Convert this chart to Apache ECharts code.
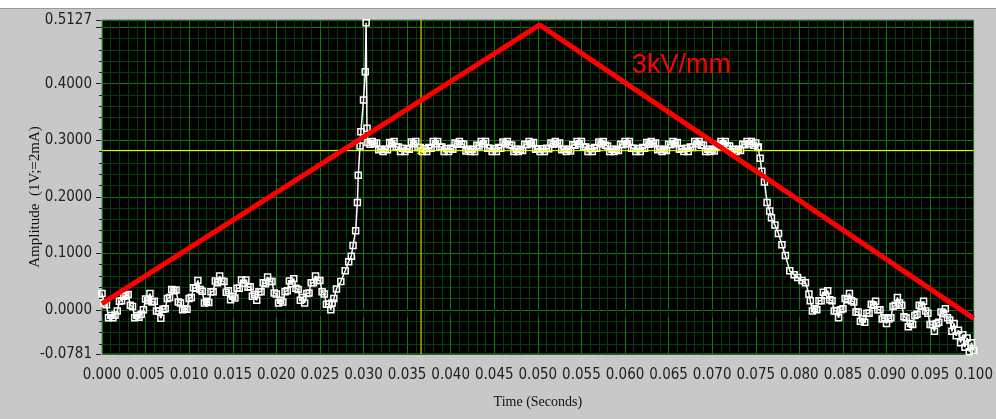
<!DOCTYPE html>
<html>
<head>
<meta charset="utf-8">
<script src="https://cdn.jsdelivr.net/npm/echarts@6/dist/echarts.min.js"></script>
<style>
  html, body { margin: 0; padding: 0; background: #c8c8c8; }
  #chart { width: 996px; height: 419px; }
</style>
</head>
<body>
<div id="chart"></div>
<script>
// Acquisition sample interval of the scope trace (s)
const sampleStep = 0.00025;

// Pre-breakdown ripple, samples from t = 0
const lowBandStart = 0.0;
const lowBandValues = [
  0.029, 0.012, 0.009, -0.014, -0.010, -0.014, -0.009, -0.002, 0.015, 0.016,
  0.024, 0.025, 0.027, 0.008, 0.006, -0.014, -0.010, -0.013, -0.008, 0.000,
  0.019, 0.016, 0.029, 0.014, 0.015, -0.002, -0.002, -0.015, 0.001, 0.002,
  0.020, 0.022, 0.036, 0.034, 0.035, 0.014, 0.012, 0.000, 0.002, 0.001,
  0.020, 0.022, 0.039, 0.038, 0.052, 0.036, 0.033, 0.012, 0.015, 0.013,
  0.032, 0.032, 0.051, 0.048, 0.060, 0.051, 0.050, 0.031, 0.034, 0.018,
  0.024, 0.021, 0.038, 0.038, 0.053, 0.047, 0.053, 0.040, 0.041, 0.024,
  0.027, 0.017, 0.032, 0.032, 0.048, 0.046, 0.058, 0.050, 0.050, 0.030,
  0.028, 0.012, 0.017, 0.014, 0.032, 0.034, 0.051, 0.046, 0.055, 0.038,
  0.036, 0.017, 0.022, 0.012, 0.029, 0.030, 0.048, 0.048, 0.060, 0.052,
  0.052, 0.032, 0.028, 0.010, 0.010, 0.000
];

// Breakdown edge and overshoot [t, v]
const riseEdge = [
  [0.0264, 0.012], [0.0266, 0.020], [0.0269, 0.037], [0.0274, 0.050], [0.0279, 0.069],
  [0.0283, 0.085], [0.0286, 0.095], [0.0288, 0.114], [0.0291, 0.140], [0.0293, 0.190],
  [0.0294, 0.238], [0.0296, 0.290], [0.0297, 0.315], [0.0300, 0.371], [0.0302, 0.421],
  [0.0303, 0.508], [0.0304, 0.321]
];

// Conduction plateau, samples from t = 0.0305
const plateauStart = 0.0305;
const plateauValues = [
  0.296, 0.293, 0.298, 0.294, 0.295, 0.283, 0.284, 0.280, 0.284, 0.283,
  0.296, 0.294, 0.298, 0.288, 0.288, 0.280, 0.286, 0.280, 0.285, 0.284,
  0.297, 0.294, 0.298, 0.287, 0.287, 0.280, 0.285, 0.280, 0.287, 0.286,
  0.298, 0.294, 0.298, 0.288, 0.288, 0.280, 0.285, 0.280, 0.286, 0.284,
  0.295, 0.293, 0.298, 0.294, 0.293, 0.281, 0.284, 0.280, 0.284, 0.280,
  0.291, 0.290, 0.298, 0.294, 0.298, 0.286, 0.286, 0.280, 0.285, 0.280,
  0.287, 0.286, 0.297, 0.294, 0.298, 0.292, 0.291, 0.280, 0.284, 0.280,
  0.284, 0.282, 0.293, 0.292, 0.298, 0.294, 0.296, 0.284, 0.285, 0.280,
  0.285, 0.280, 0.286, 0.285, 0.295, 0.293, 0.298, 0.294, 0.295, 0.283,
  0.284, 0.280, 0.284, 0.281, 0.292, 0.291, 0.298, 0.294, 0.298, 0.288,
  0.288, 0.280, 0.285, 0.280, 0.287, 0.286, 0.297, 0.294, 0.298, 0.291,
  0.290, 0.280, 0.284, 0.280, 0.284, 0.282, 0.293, 0.292, 0.298, 0.294,
  0.298, 0.286, 0.286, 0.280, 0.285, 0.280, 0.287, 0.286, 0.296, 0.293,
  0.298, 0.294, 0.295, 0.283, 0.284, 0.280, 0.284, 0.282, 0.293, 0.292,
  0.298, 0.294, 0.296, 0.284, 0.285, 0.280, 0.286, 0.280, 0.288, 0.287,
  0.298, 0.294, 0.298, 0.291, 0.291, 0.280, 0.284, 0.280, 0.284, 0.281,
  0.291, 0.289, 0.298, 0.294, 0.298, 0.290, 0.290, 0.280, 0.284, 0.280,
  0.284, 0.282, 0.293, 0.292, 0.298, 0.294, 0.298, 0.291, 0.295, 0.287
];

// Recovery edge [t, v]
const fallEdge = [
  [0.0753, 0.288], [0.0755, 0.268], [0.0757, 0.245], [0.0760, 0.226], [0.0763, 0.190],
  [0.0766, 0.175], [0.0768, 0.163], [0.0772, 0.150], [0.0776, 0.135], [0.0780, 0.115],
  [0.0784, 0.096], [0.0789, 0.069], [0.0794, 0.062], [0.0798, 0.057], [0.0803, 0.052],
  [0.0807, 0.048], [0.0811, 0.028]
];

// Post-recovery ripple, samples from t = 0.08125
const tailStart = 0.08125;
const tailValues = [
  0.016, -0.002, 0.002, 0.000, 0.016, 0.016, 0.031, 0.026, 0.034, 0.018,
  0.016, -0.002, -0.001, -0.014, 0.000, 0.002, 0.020, 0.018, 0.029, 0.016,
  0.014, -0.004, -0.004, -0.020, -0.016, -0.022, -0.006, -0.006, 0.010, 0.008,
  0.015, 0.000, 0.000, -0.016, -0.014, -0.024, -0.016, -0.014, 0.006, 0.008,
  0.022, 0.012, 0.008, -0.012, -0.014, -0.030, -0.024, -0.026, -0.010, -0.008,
  0.008, 0.006, 0.015, -0.002, -0.006, -0.026, -0.026, -0.038, -0.024, -0.022,
  -0.004, -0.007, 0.002, -0.014, -0.018, -0.038, -0.024, -0.046, -0.036, -0.058,
  -0.044, -0.066, -0.050, -0.074, -0.058, -0.072
];

// Applied field ramp (3kV/mm): up then down
const fieldRamp = [[0.0000, 0.011], [0.0502, 0.504], [0.1000, -0.015]];

// Cursor position
const cursorTime = 0.0366;
const cursorLevel = 0.282;

// Axis ticks / labels
const xMin = 0, xMax = 0.1, xStep = 0.005;
const yMin = -0.0781, yMax = 0.5127;
const yLabelValues = [-0.0781, 0, 0.1, 0.2, 0.3, 0.4, 0.5127];
const yMajorLines = [0, 0.1, 0.2, 0.3, 0.4, 0.5];
const yMinorLines = [-0.06, -0.04, -0.02, 0.02, 0.04, 0.06, 0.08, 0.12, 0.14, 0.16, 0.18,
  0.22, 0.24, 0.26, 0.28, 0.32, 0.34, 0.36, 0.38, 0.42, 0.44, 0.46, 0.48, 0.5];

function sampled(start, values) {
  return values.map((v, i) => [start + i * sampleStep, v]);
}
const signal = sampled(lowBandStart, lowBandValues)
  .concat(riseEdge, sampled(plateauStart, plateauValues), fallEdge, sampled(tailStart, tailValues));

const tickFont = "'Liberation Sans Narrow', 'DejaVu Sans Condensed', sans-serif";
const titleFont = "'Liberation Serif', 'DejaVu Serif', serif";
const majorGreen = '#0b7d0b';
const minorGreen = '#083c08';
const cursorYellow = '#ffff00';
const crossPath = 'path://M0,1L1,0L5,4L9,0L10,1L6,5L10,9L9,10L5,6L1,10L0,9L4,5Z';

const chart = echarts.init(document.getElementById('chart'), null, { renderer: 'canvas' });
chart.setOption({
  animation: false,
  backgroundColor: '#c8c8c8',
  grid: {
    left: 102, right: 18, top: 20, bottom: 65,
    show: true, backgroundColor: '#000000', borderColor: '#6e6e6e', borderWidth: 1
  },
  graphic: [
    { type: 'rect', left: 0, top: 0, shape: { width: 996, height: 8 }, style: { fill: '#ffffff' }, z: -1 },
    { type: 'rect', left: 0, top: 8, shape: { width: 996, height: 1 }, style: { fill: '#9a9a9a' }, z: -1 },
    {
      type: 'text', left: 632, top: 52, z: 100,
      style: { text: '3kV/mm', fill: '#ff0000', font: "27px 'Liberation Sans', Arial, sans-serif" }
    }
  ],
  xAxis: {
    type: 'value', min: xMin, max: xMax, interval: xStep,
    position: 'bottom', offset: 3,
    name: 'Time (Seconds)', nameLocation: 'middle', nameGap: 38, nameMoveOverlap: false,
    nameTextStyle: { color: '#111', fontFamily: titleFont, fontSize: 14 },
    axisLine: { show: false },
    axisTick: { show: true, length: 7, lineStyle: { color: '#222' } },
    minorTick: { show: true, splitNumber: 5, length: 4, lineStyle: { color: '#222' } },
    axisLabel: {
      color: '#222', fontFamily: tickFont, fontSize: 15, margin: 11,
      formatter: v => v.toFixed(3)
    },
    splitLine: { show: true, lineStyle: { color: majorGreen, width: 1 } },
    minorSplitLine: { show: true, lineStyle: { color: minorGreen, width: 1 } }
  },
  yAxis: [
    {
      type: 'value', min: yMin, max: yMax, position: 'left', offset: 1,
      axisLine: { show: false },
      axisTick: { show: true, length: 3, customValues: yMinorLines, lineStyle: { color: '#222' } },
      axisLabel: { show: false },
      splitLine: { show: true, lineStyle: { color: minorGreen, width: 1 } }
    },
    {
      type: 'value', min: yMin, max: yMax, position: 'left', offset: 1,
      name: 'Amplitude  (1V;=2mA)', nameLocation: 'middle', nameGap: 58, nameMoveOverlap: false,
      nameTextStyle: { color: '#111', fontFamily: titleFont, fontSize: 15, padding: [0, 20, 0, 0] },
      axisLine: { show: false },
      axisTick: { show: true, length: 5, customValues: yMajorLines.concat([yMin, yMax]), lineStyle: { color: '#222' } },
      axisLabel: {
        customValues: yLabelValues, color: '#222', fontFamily: tickFont, fontSize: 15, margin: 9,
        formatter: v => v.toFixed(4)
      },
      splitLine: { show: true, lineStyle: { color: majorGreen, width: 1 } }
    }
  ],
  series: [
    {
      name: 'signal', type: 'line', data: signal, z: 3,
      symbol: 'rect', symbolSize: 6, showAllSymbol: true,
      lineStyle: { color: '#ffffff', width: 1.5 },
      itemStyle: { color: 'rgba(0,0,0,0)', borderColor: '#ffffff', borderWidth: 1.5 }
    },
    {
      // vertical cursor
      name: 'cursorX', type: 'line', z: 4, symbol: 'none', silent: true,
      data: [[cursorTime, yMin], [cursorTime, yMax]],
      lineStyle: { color: cursorYellow, width: 1 }
    },
    {
      // horizontal cursor with crosshair mark
      name: 'cursorY', type: 'line', z: 4, symbol: 'none', silent: true,
      data: [[xMin, cursorLevel], [xMax, cursorLevel]],
      lineStyle: { color: cursorYellow, width: 1 },
      markPoint: {
        silent: true, symbol: crossPath, symbolSize: 8, label: { show: false },
        itemStyle: { color: cursorYellow },
        data: [{ coord: [cursorTime, cursorLevel] }]
      }
    },
    {
      name: 'field', type: 'line', data: fieldRamp, z: 5,
      symbol: 'none',
      lineStyle: { color: '#ff0000', width: 5 }
    }
  ]
});
</script>
</body>
</html>
